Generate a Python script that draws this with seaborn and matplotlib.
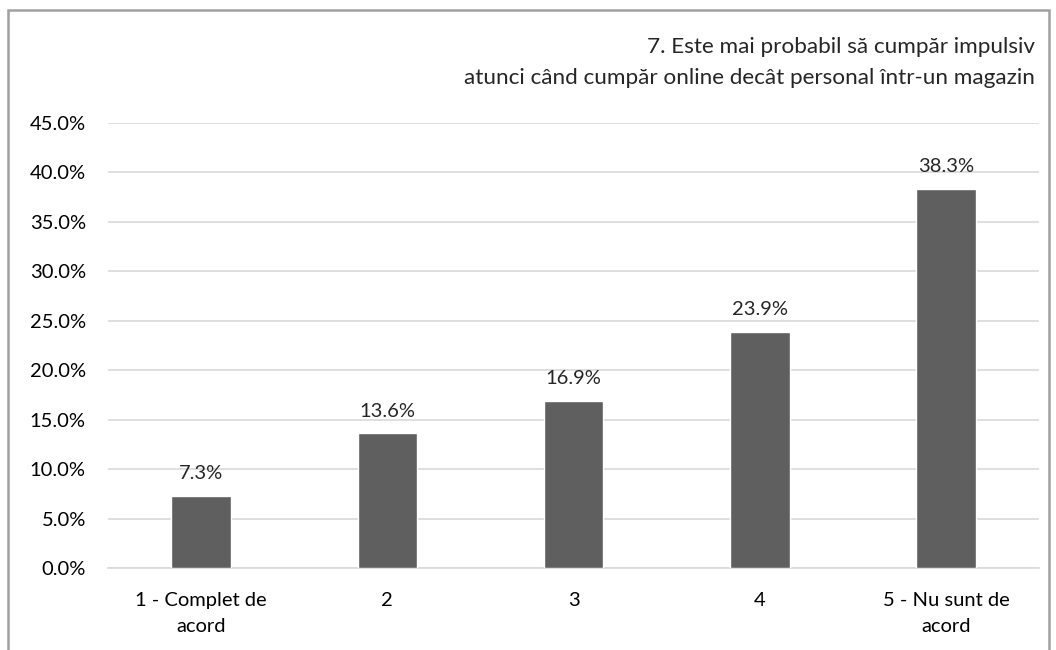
import matplotlib
matplotlib.use("Agg")
import matplotlib.pyplot as plt
from matplotlib.patches import Rectangle
from matplotlib.ticker import FuncFormatter, MultipleLocator
import seaborn as sns
import pandas as pd

categories = ["1 - Complet de\nacord", "2", "3", "4", "5 - Nu sunt de\nacord"]
values = [7.3, 13.6, 16.9, 23.9, 38.3]
title_lines = ["7. Este mai probabil să cumpăr impulsiv",
               "atunci când cumpăr online decât personal într-un magazin"]

sns.set_theme(style="white")
plt.rcParams["font.family"] = ["Lato", "DejaVu Sans"]

df = pd.DataFrame({"cat": categories, "val": values})

fig = plt.figure(figsize=(10.56, 6.5), dpi=100)
ax = fig.add_axes([0.1023, 0.1262, 0.8817, 0.6846])

sns.barplot(data=df, x="cat", y="val", color="#5f5f5f", saturation=1,
            width=0.32, ax=ax, zorder=3)

ax.set_ylim(0, 45)
ax.yaxis.set_major_locator(MultipleLocator(5))
ax.yaxis.set_major_formatter(FuncFormatter(lambda v, _: f"{v:.1f}%"))
ax.grid(axis="y", color="#d9d9d9", linewidth=1.2, zorder=0)
ax.set_xlabel("")
ax.set_ylabel("")
for s in ["top", "right", "left"]:
    ax.spines[s].set_visible(False)
ax.spines["bottom"].set_color("#d9d9d9")
ax.spines["bottom"].set_linewidth(1.2)
ax.tick_params(axis="both", length=0, labelsize=14.5, colors="#000000")
ax.tick_params(axis="y", pad=16)
ax.tick_params(axis="x", pad=17)
for lbl in ax.get_xticklabels():
    lbl.set_linespacing(1.65)

for p, v in zip(ax.patches, values):
    ax.annotate(f"{v:.1f}%", (p.get_x() + p.get_width() / 2, v),
                xytext=(0, 10), textcoords="offset points",
                ha="center", va="bottom", fontsize=14.5)

fig.text(0.980, 0.927, title_lines[0], ha="right", va="center", fontsize=16.2)
fig.text(0.980, 0.880, title_lines[1], ha="right", va="center", fontsize=16.2)

fig.patches.append(Rectangle((8 / 1056, -0.05), (1049 - 8) / 1056, 1.05 - 10 / 650,
                             transform=fig.transFigure, fill=False,
                             edgecolor="#a0a0a0", linewidth=1.8))

fig.savefig("out.png", dpi=100)
